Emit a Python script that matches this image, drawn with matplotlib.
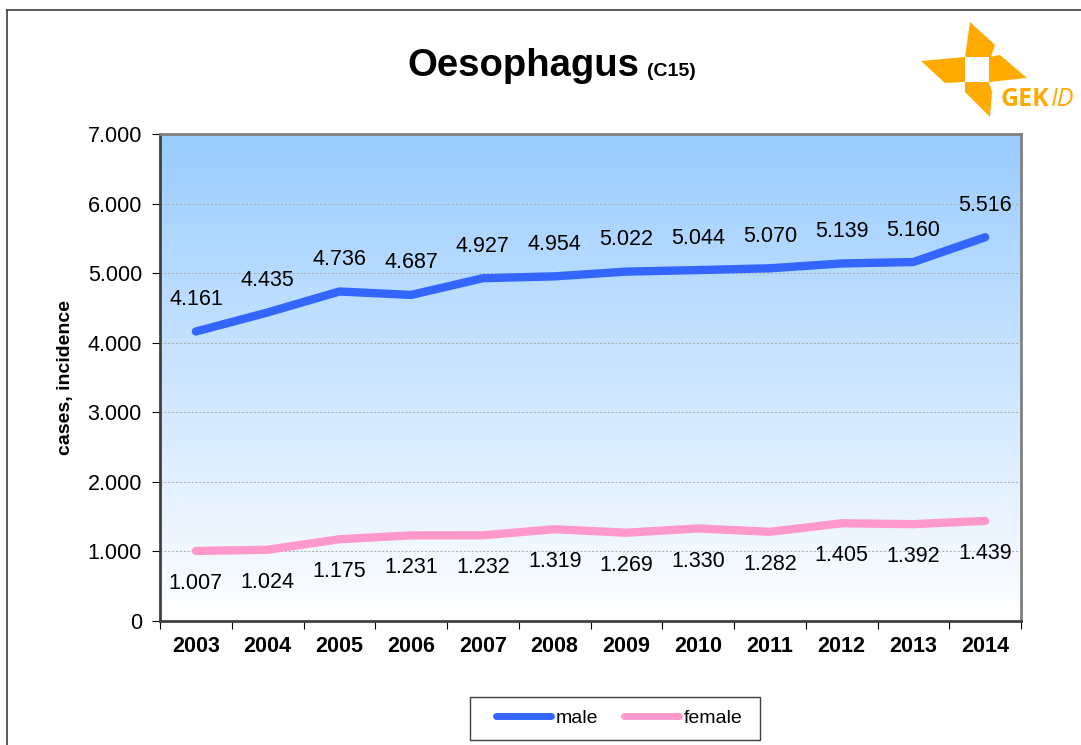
import matplotlib
matplotlib.use('Agg')
import matplotlib.pyplot as plt
import numpy as np
from matplotlib.patches import Polygon, Rectangle
from matplotlib.lines import Line2D

plt.rcParams['font.family'] = ['Liberation Sans', 'DejaVu Sans']

years = ['2003', '2004', '2005', '2006', '2007', '2008', '2009', '2010', '2011', '2012', '2013', '2014']
male = [4161, 4435, 4736, 4687, 4927, 4954, 5022, 5044, 5070, 5139, 5160, 5516]
female = [1007, 1024, 1175, 1231, 1232, 1319, 1269, 1330, 1282, 1405, 1392, 1439]
y_ticks = [0, 1000, 2000, 3000, 4000, 5000, 6000, 7000]
y_labels = ['0', '1.000', '2.000', '3.000', '4.000', '5.000', '6.000', '7.000']


def fmt(v):
    return f'{v / 1000:.3f}'


W, H = 1081, 745
fig = plt.figure(figsize=(W / 100, H / 100), dpi=100)
fig.patch.set_facecolor('white')

# plot area in pixels: x 160..1021, y 134..621
ax = fig.add_axes([160 / W, 1 - 621 / H, (1021 - 160) / W, (621 - 134) / H])

x = np.arange(len(years))
ax.set_xlim(-0.5, len(years) - 0.5)
ax.set_ylim(0, 7000)

# gradient background
grad = np.linspace(0, 1, 256).reshape(-1, 1)
top = np.array([153, 204, 255]) / 255
bottom = np.array([255, 255, 255]) / 255
img = bottom + (top - bottom) * grad[:, :, None] * np.ones((1, 1, 3))
ax.imshow(img, extent=[-0.5, len(years) - 0.5, 0, 7000], origin='lower',
          aspect='auto', zorder=0)

for t in y_ticks[1:-1]:
    ax.axhline(t, color='#aaaaaa', lw=0.7, ls=(0, (2, 2)), zorder=1)

ax.plot(x, male, color='#3366FF', lw=6, solid_capstyle='round', label='male', zorder=3)
ax.plot(x, female, color='#FF99CC', lw=6, solid_capstyle='round', label='female', zorder=3)

for i in range(len(years)):
    ax.annotate(fmt(male[i]), (x[i], male[i]), xytext=(0, 23), textcoords='offset points',
                ha='center', va='center', fontsize=15.5, zorder=4)
    ax.annotate(fmt(female[i]), (x[i], female[i]), xytext=(0, -23.5), textcoords='offset points',
                ha='center', va='center', fontsize=15.5, zorder=4)

ax.set_yticks(y_ticks)
ax.set_yticklabels(y_labels, fontsize=15.5)
ax.set_xticks(np.arange(-0.5, len(years), 1.0))
ax.set_xticklabels([])
ax.set_xticks(x, minor=True)
ax.set_xticklabels(years, minor=True, fontsize=15.5, fontweight='bold')
ax.tick_params(axis='x', which='minor', length=0, pad=11)
ax.tick_params(axis='x', which='major', length=6, direction='out', color='#000000')
ax.tick_params(axis='y', length=6, direction='out', pad=7)
ax.set_ylabel('cases, incidence', fontsize=14, fontweight='bold', labelpad=10)

for s in ax.spines.values():
    s.set_color('#808080')
    s.set_linewidth(2)
ax.spines['left'].set_color('#404040')
ax.spines['bottom'].set_color('#404040')

leg = fig.legend(loc='center', bbox_to_anchor=(619 / W, 1 - 718 / H), ncol=2,
                 fontsize=14, frameon=False,
                 handlelength=2.85, handletextpad=0.2, columnspacing=1.35,
                 borderpad=0, borderaxespad=0)
for line in leg.get_lines():
    line.set_linewidth(5)

# overlay in pixel coordinates for title, logo, legend box and border
ov = fig.add_axes([0, 0, 1, 1], zorder=-1)
ov.set_xlim(0, W)
ov.set_ylim(H, 0)
ov.axis('off')

ov.add_line(Line2D([7, 7], [10, H + 5], color='#404040', lw=1.2))
ov.add_line(Line2D([7, W + 5], [10, 10], color='#404040', lw=1.2))
ov.add_patch(Rectangle((470, 697), 290, 43, facecolor='white', edgecolor='#404040', lw=1.0))

ov.text(407, 76, 'Oesophagus', fontsize=27.5, fontweight='bold', ha='left', va='baseline')
ov.text(647, 76, '(C15)', fontsize=14, fontweight='bold', ha='left', va='baseline')

orange = '#FFAA00'
blades = [
    [(970, 22), (995, 45), (991, 57), (965, 57)],
    [(989, 57), (1000, 55), (1027, 78), (989, 82)],
    [(921, 61), (965, 57), (965, 82), (945, 83)],
    [(965, 82), (989, 82), (992, 92), (990, 117), (965, 92)],
]
for b in blades:
    ov.add_patch(Polygon(b, closed=True, color=orange, lw=0))
ov.text(1000, 106, 'GEK', fontsize=18, fontweight='bold', color=orange,
        family=['Open Sans', 'DejaVu Sans'], ha='left', va='baseline')
ov.text(1051, 106, 'ID', fontsize=18, style='italic', color=orange,
        family=['Open Sans', 'DejaVu Sans'], ha='left', va='baseline')

fig.savefig('out.png', dpi=100)
